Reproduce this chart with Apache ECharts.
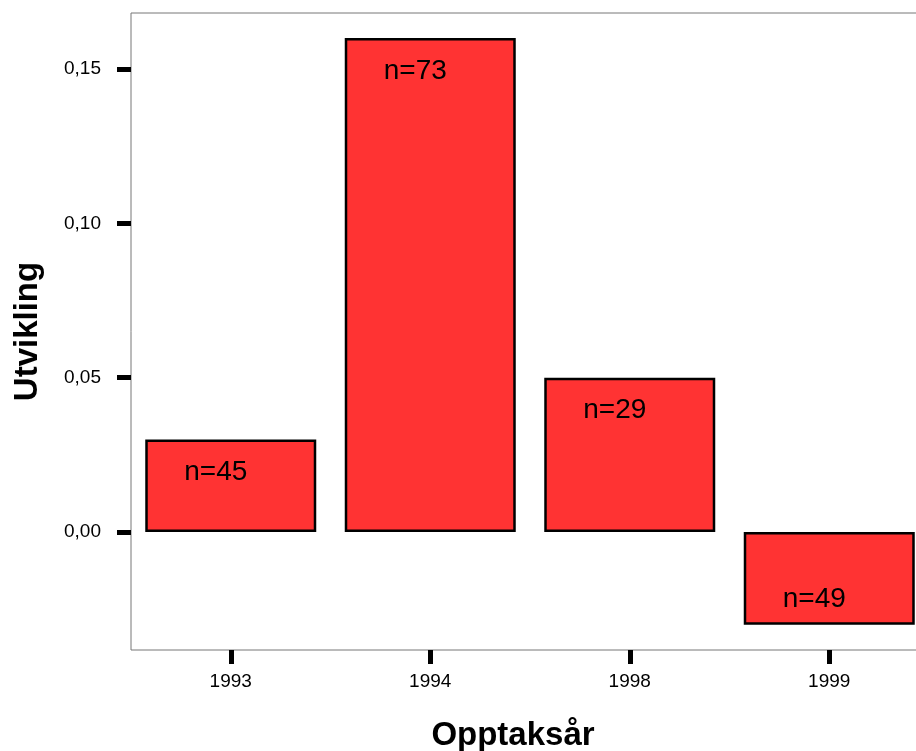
<!DOCTYPE html>
<html><head><meta charset="utf-8">
<script src="https://cdn.jsdelivr.net/npm/echarts@6/dist/echarts.min.js"></script>
<style>html,body{margin:0;padding:0;background:#fff}#c{width:916px;height:751px}</style>
</head><body><div id="c"></div>
<script>
const categories = ['1993', '1994', '1998', '1999'];
const values = [0.03, 0.16, 0.05, -0.03];
const counts = [45, 73, 29, 49];
const yTicks = [0, 0.05, 0.10, 0.15];
const yMin = -0.0382, yMax = 0.1681;

const font = "'Liberation Sans', Arial, sans-serif";
const chart = echarts.init(document.getElementById('c'), null, { renderer: 'canvas' });
const data = values.map((v, i) => ({
  value: v,
  label: v >= 0 ? { position: 'insideTop', distance: 19 } : { position: 'insideBottom', distance: 11 }
}));
chart.setOption({
  animation: false,
  backgroundColor: '#fff',
  grid: { left: 131, top: 13, width: 798, height: 637, show: true, borderColor: '#777', borderWidth: 1,
          containLabel: false, outerBoundsMode: 'none' },
  xAxis: {
    type: 'category', data: categories,
    name: 'Opptaksår', nameLocation: 'middle', nameGap: 69, nameMoveOverlap: false,
    nameTextStyle: { fontFamily: font, fontSize: 33, fontWeight: 'bold', color: '#000', padding: [0, 34, 0, 0] },
    axisLine: { show: false, onZero: false },
    axisTick: { show: true, alignWithLabel: true, length: 14, lineStyle: { color: '#000', width: 5 } },
    axisLabel: { margin: 22, fontFamily: font, fontSize: 19, color: '#000' },
    splitLine: { show: false }
  },
  yAxis: {
    type: 'value', min: yMin, max: yMax,
    name: 'Utvikling', nameLocation: 'middle', nameGap: 87, nameMoveOverlap: false,
    nameTextStyle: { fontFamily: font, fontSize: 33, fontWeight: 'bold', color: '#000' },
    axisLine: { show: false },
    axisTick: { show: true, length: 14, customValues: yTicks, lineStyle: { color: '#000', width: 5 } },
    axisLabel: { margin: 30, fontFamily: font, fontSize: 19, color: '#000', customValues: yTicks,
                 formatter: v => v.toFixed(2).replace('.', ',') },
    splitLine: { show: false }
  },
  series: [{
    type: 'bar', data: data, barWidth: 171,
    itemStyle: { color: '#FF3333', borderColor: '#000', borderWidth: 2.5 },
    label: { show: true, fontFamily: font, fontSize: 28, color: '#000', offset: [-15, 0],
             formatter: p => 'n=' + counts[p.dataIndex] }
  }]
});
</script></body></html>
